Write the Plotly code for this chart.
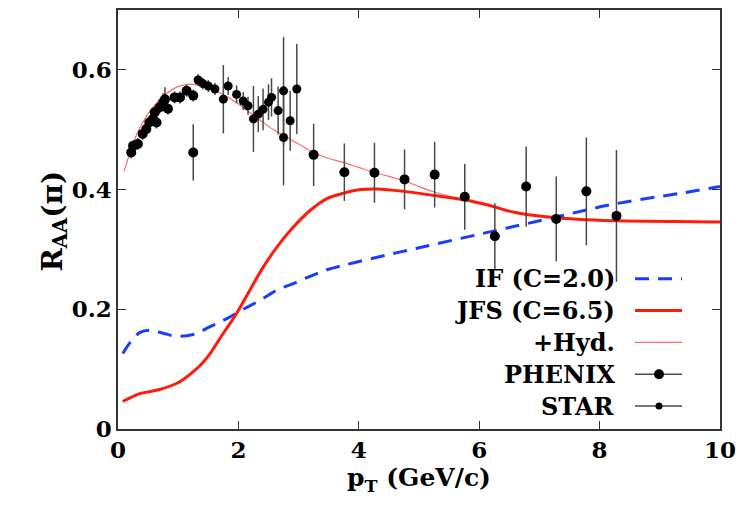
import plotly.graph_objects as go

# ---- model curves ----
if_pt = [0.08, 0.19, 0.36, 0.52, 0.75, 0.97, 1.25, 1.53, 1.8, 2.08, 2.36, 2.64, 2.91, 3.19, 3.47, 3.97, 4.92, 6.03, 7.14, 8.25, 9.36, 10.0]
if_raa = [0.126, 0.143, 0.161, 0.165, 0.160, 0.155, 0.158, 0.171, 0.184, 0.200, 0.215, 0.232, 0.243, 0.255, 0.266, 0.279, 0.301, 0.326, 0.351, 0.376, 0.394, 0.405]

jfs_pt = [0.08, 0.2, 0.36, 0.5, 0.69, 0.97, 1.1, 1.25, 1.4, 1.53, 1.75, 1.97, 2.19, 2.41, 2.64, 2.91, 3.19, 3.47, 3.75, 4.03, 4.3, 4.75, 5.25, 5.75, 6.19, 6.58, 7.14, 7.69, 8.25, 8.8, 10.0]
jfs_raa = [0.046, 0.052, 0.059, 0.062, 0.066, 0.076, 0.084, 0.096, 0.110, 0.126, 0.160, 0.193, 0.232, 0.270, 0.304, 0.337, 0.365, 0.385, 0.394, 0.400, 0.401, 0.397, 0.390, 0.383, 0.373, 0.362, 0.354, 0.350, 0.348, 0.347, 0.346]

hyd_pt = [0.1, 0.2, 0.3, 0.4, 0.5, 0.6, 0.7, 0.8, 0.9, 1.0, 1.1, 1.2, 1.3, 1.4, 1.6, 1.8, 2.0, 2.2, 2.4, 2.6, 2.8, 3.0, 3.25, 3.5, 3.75, 4.0, 4.25, 4.5, 4.75, 5.0, 5.25, 5.75, 6.19, 6.58, 7.14, 7.69, 8.25, 8.8, 10.0]
hyd_raa = [0.430, 0.462, 0.490, 0.510, 0.527, 0.540, 0.551, 0.560, 0.567, 0.572, 0.575, 0.576, 0.575, 0.573, 0.566, 0.556, 0.543, 0.528, 0.513, 0.499, 0.488, 0.476, 0.462, 0.452, 0.445, 0.437, 0.429, 0.422, 0.415, 0.405, 0.396, 0.383, 0.373, 0.362, 0.354, 0.350, 0.348, 0.347, 0.346]

# ---- data ----
phenix_pt = [0.22, 0.25, 0.33, 0.41, 0.47, 0.52, 0.58, 0.61, 0.64, 0.69, 0.75, 0.78, 0.83, 0.94, 1.03, 1.14, 1.25, 1.25,
             3.25, 3.76, 4.26, 4.76, 5.26, 5.76, 6.26, 6.78, 7.28, 7.78, 8.28]
phenix_raa = [0.462, 0.473, 0.476, 0.493, 0.501, 0.512, 0.518, 0.529, 0.512, 0.537, 0.546, 0.551, 0.535, 0.554, 0.554, 0.565, 0.557, 0.462,
              0.458, 0.429, 0.428, 0.417, 0.425, 0.388, 0.322, 0.405, 0.351, 0.397, 0.356]
phenix_err = [0.01, 0.01, 0.01, 0.01, 0.01, 0.01, 0.01, 0.01, 0.01, 0.01, 0.015, 0.02, 0.01, 0.01, 0.01, 0.01, 0.01, 0.047,
              0.052, 0.048, 0.05, 0.05, 0.055, 0.055, 0.055, 0.067, 0.071, 0.09, 0.11]

star_pt = [1.33, 1.41, 1.5, 1.61, 1.75, 1.83, 1.97, 2.08, 2.16, 2.25, 2.33, 2.41, 2.5, 2.55, 2.66, 2.75, 2.75, 2.86, 2.97]
star_raa = [0.583, 0.577, 0.573, 0.568, 0.551, 0.573, 0.559, 0.548, 0.540, 0.518, 0.526, 0.534, 0.546, 0.554, 0.532, 0.565, 0.487, 0.515, 0.568]
star_err = [0.01, 0.01, 0.01, 0.01, 0.057, 0.015, 0.015, 0.015, 0.015, 0.055, 0.03, 0.035, 0.03, 0.032, 0.04, 0.09, 0.08, 0.05, 0.075]

legend_labels = ["IF (C=2.0)", "JFS (C=6.5)", "+Hyd.", "PHENIX", "STAR"]

FONT = "DejaVu Serif"
RED = "#ff1a0a"
PINK = "#ff6a6a"
BLUE = "#1a3cff"
ERR = "#4a4a4a"

fig = go.Figure()
fig.add_trace(go.Scatter(x=if_pt, y=if_raa, mode="lines", line=dict(color=BLUE, width=3, dash="14px,9px", shape="spline"), showlegend=False))
fig.add_trace(go.Scatter(x=hyd_pt, y=hyd_raa, mode="lines", line=dict(color=PINK, width=1.2, shape="spline"), showlegend=False))
fig.add_trace(go.Scatter(x=jfs_pt, y=jfs_raa, mode="lines", line=dict(color=RED, width=3, shape="spline"), showlegend=False))
fig.add_trace(go.Scatter(x=star_pt, y=star_raa, mode="markers", marker=dict(color="black", size=9),
                         error_y=dict(type="data", array=star_err, color=ERR, thickness=1.5, width=0), showlegend=False))
fig.add_trace(go.Scatter(x=phenix_pt, y=phenix_raa, mode="markers", marker=dict(color="black", size=10),
                         error_y=dict(type="data", array=phenix_err, color=ERR, thickness=1.5, width=0), showlegend=False))

# ---- legend drawn on the right like gnuplot ----
L, R, T, B = 118, 720, 8, 429
W, H = R - L, B - T
def px(xp):
    return (xp - L) / W
def py(yp):
    return (B - yp) / H

rows = [278, 310, 342, 374, 406]
for i, lab in enumerate(legend_labels):
    fig.add_annotation(xref="paper", yref="paper", x=px(617), y=py(rows[i]), text="<b>" + lab + "</b>",
                       showarrow=False, xanchor="right", yanchor="middle",
                       font=dict(family=FONT, size=24, color="black"))
styles = [dict(color=BLUE, width=3, dash="14px,9px"), dict(color=RED, width=3), dict(color=PINK, width=1.2),
          dict(color=ERR, width=1.5), dict(color=ERR, width=1.5)]
for i, st in enumerate(styles):
    fig.add_shape(type="line", xref="paper", yref="paper", x0=px(635), x1=px(682), y0=py(rows[i]), y1=py(rows[i]), line=st)
for i, sz in [(3, 5), (4, 3.5)]:
    fig.add_shape(type="circle", xref="paper", yref="paper", xsizemode="pixel", ysizemode="pixel",
                  xanchor=px(659), yanchor=py(rows[i]), x0=-sz, x1=sz, y0=-sz, y1=sz,
                  fillcolor="black", line=dict(color="black", width=0))

# y title
fig.add_annotation(xref="paper", yref="paper", x=px(34), y=py(220), text="<b>R<sub>AA</sub>(π)</b>",
                   textangle=-90, showarrow=False, font=dict(family=FONT, size=28, color="black"))

axis_common = dict(showgrid=False, zeroline=False, showline=True, linecolor="#333", linewidth=1.5, mirror="ticks",
                   ticks="inside", ticklen=8, tickwidth=1.2, tickcolor="#333",
                   tickfont=dict(family=FONT, size=23, color="black", weight="bold"))
fig.update_xaxes(range=[0, 10], tickvals=[0, 2, 4, 6, 8, 10], ticktext=["0", "2", "4", "6", "8", "10"],
                 title=dict(text="<b>p<sub>T</sub> (GeV/c)</b>", font=dict(family=FONT, size=25, color="black"), standoff=4),
                 **axis_common)
fig.update_yaxes(range=[0, 0.7], tickvals=[0, 0.2, 0.4, 0.6], ticktext=["0", "0.2", "0.4", "0.6"], **axis_common)

fig.update_layout(width=747, height=509, margin=dict(l=L, r=747 - R, t=T, b=509 - B),
                  plot_bgcolor="white", paper_bgcolor="white", font=dict(family=FONT))
fig.write_html("out.html")
